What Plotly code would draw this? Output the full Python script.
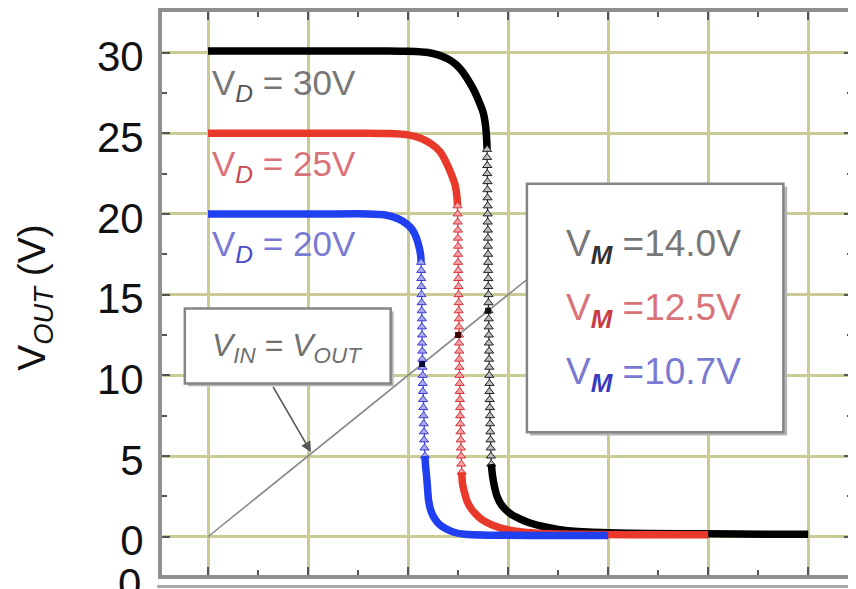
import plotly.graph_objects as go

# ---------------- data ----------------
# V_D = 30 V curve (black)
vin_30_top = [0, 2, 4, 6, 8, 9, 10, 11, 11.5, 12, 12.4, 12.7, 13.0, 13.3, 13.55, 13.75, 13.87, 13.93]
vout_30_top = [30.1, 30.1, 30.1, 30.1, 30.1, 30.1, 30.08, 30.0, 29.85, 29.6, 29.25, 28.85, 28.3, 27.65, 26.95, 26.3, 25.5, 24.6]
vin_30_steep = [13.95, 13.95, 13.96, 13.96, 13.97, 13.97, 13.97, 13.98, 13.98, 13.98,
                13.99, 13.99, 13.99, 14.0, 14.0, 14.0, 14.01, 14.01, 14.02, 14.02,
                14.02, 14.03, 14.03, 14.04, 14.04, 14.05, 14.05, 14.06, 14.06, 14.07,
                14.07, 14.08, 14.09, 14.09, 14.1, 14.11, 14.12, 14.13, 14.14, 14.16]
vout_30_steep = [24.0, 23.5, 23.0, 22.5, 22.0, 21.5, 21.0, 20.5, 20.0, 19.5,
                 19.0, 18.5, 18.0, 17.5, 17.0, 16.5, 16.0, 15.5, 15.0, 14.5,
                 14.0, 13.5, 13.0, 12.5, 12.0, 11.5, 11.0, 10.5, 10.0, 9.5,
                 9.0, 8.5, 8.0, 7.5, 7.0, 6.5, 6.0, 5.5, 5.0, 4.5]
vin_30_bot = [14.22, 14.32, 14.45, 14.65, 14.9, 15.2, 15.6, 16.1, 16.8, 17.5, 18.5, 20, 22, 25, 28, 30]
vout_30_bot = [3.8, 3.1, 2.5, 2.0, 1.65, 1.35, 1.1, 0.85, 0.62, 0.45, 0.32, 0.25, 0.2, 0.18, 0.15, 0.15]

# V_D = 25 V curve (red)
vin_25_top = [0, 2, 4, 6, 8, 9, 10, 10.6, 11.2, 11.6, 11.9, 12.15, 12.35, 12.45]
vout_25_top = [25.0, 25.0, 25.0, 25.0, 25.0, 24.98, 24.9, 24.7, 24.3, 23.85, 23.2, 22.5, 21.8, 21.0]
vin_25_steep = [12.47, 12.48, 12.48, 12.49, 12.49, 12.5, 12.5, 12.5, 12.51, 12.51,
                12.52, 12.52, 12.53, 12.53, 12.54, 12.54, 12.55, 12.55, 12.56, 12.56,
                12.57, 12.57, 12.58, 12.58, 12.59, 12.6, 12.6, 12.61, 12.62, 12.63,
                12.64, 12.65, 12.66, 12.68]
vout_25_steep = [20.5, 20.0, 19.5, 19.0, 18.5, 18.0, 17.5, 17.0, 16.5, 16.0,
                 15.5, 15.0, 14.5, 14.0, 13.5, 13.0, 12.5, 12.0, 11.5, 11.0,
                 10.5, 10.0, 9.5, 9.0, 8.5, 8.0, 7.5, 7.0, 6.5, 6.0,
                 5.5, 5.0, 4.5, 4.0]
vin_25_bot = [12.72, 12.85, 12.95, 13.15, 13.35, 13.65, 14.0, 14.6, 15.5, 16.5, 18.5, 21, 25]
vout_25_bot = [3.3, 2.6, 2.2, 1.75, 1.45, 1.1, 0.85, 0.55, 0.33, 0.22, 0.15, 0.12, 0.12]

# V_D = 20 V curve (blue)
vin_20_top = [0, 2, 4, 6, 8, 8.8, 9.5, 9.9, 10.2, 10.42, 10.58, 10.64]
vout_20_top = [20.0, 20.0, 20.0, 20.0, 20.0, 19.95, 19.7, 19.4, 19.05, 18.5, 17.8, 17.3]
vin_20_steep = [10.65, 10.66, 10.66, 10.67, 10.67, 10.68, 10.68, 10.69, 10.69, 10.7,
                10.7, 10.71, 10.71, 10.72, 10.73, 10.73, 10.74, 10.75, 10.76, 10.77,
                10.78, 10.79, 10.8, 10.82, 10.84]
vout_20_steep = [17.0, 16.5, 16.0, 15.5, 15.0, 14.5, 14.0, 13.5, 13.0, 12.5,
                 12.0, 11.5, 11.0, 10.5, 10.0, 9.5, 9.0, 8.5, 8.0, 7.5,
                 7.0, 6.5, 6.0, 5.5, 5.0]
vin_20_bot = [10.88, 10.93, 10.98, 11.02, 11.12, 11.27, 11.5, 11.85, 12.3, 12.84, 14, 16, 18, 20]
vout_20_bot = [4.3, 3.7, 2.9, 2.3, 1.7, 1.25, 0.85, 0.52, 0.28, 0.15, 0.1, 0.08, 0.08, 0.08]

# V_IN = V_OUT line and switching voltages
diag_vin = [0, 15.9]
diag_vout = [0, 15.9]
vd_labels = ["30V", "25V", "20V"]
vm_values = [14.0, 12.5, 10.7]
vm_labels = ["14.0V", "12.5V", "10.7V"]
y_ticks = [0, 5, 10, 15, 20, 25, 30]

# ---------------- styling ----------------
FONT = "Liberation Sans, Arial, sans-serif"
curves = [
    (vin_30_top, vout_30_top, vin_30_steep, vout_30_steep, vin_30_bot, vout_30_bot,
     "#000000", "#bdbdbd", "#222222"),
    (vin_25_top, vout_25_top, vin_25_steep, vout_25_steep, vin_25_bot, vout_25_bot,
     "#e8392b", "#f3a3a6", "#d8323a"),
    (vin_20_top, vout_20_top, vin_20_steep, vout_20_steep, vin_20_bot, vout_20_bot,
     "#1f3ff0", "#a9a9f0", "#3b3bd6"),
]

fig = go.Figure()

# diagonal V_IN = V_OUT
fig.add_trace(go.Scatter(x=diag_vin, y=diag_vout, mode="lines",
                         line=dict(color="#8a8a8a", width=1.6), showlegend=False, hoverinfo="skip"))

for vt, yt, vs, ys, vb, yb, col, light, mk in curves:
    fig.add_trace(go.Scatter(x=vt + [vs[0]], y=yt + [ys[0]], mode="lines",
                             line=dict(color=col, width=7.5, shape="spline", smoothing=0.5),
                             showlegend=False))
    fig.add_trace(go.Scatter(x=vs, y=ys, mode="lines+markers",
                             line=dict(color=mk, width=1.2),
                             marker=dict(symbol="triangle-up", size=8, color=light,
                                         line=dict(color=mk, width=1)),
                             showlegend=False))
    fig.add_trace(go.Scatter(x=[vs[-1]] + vb, y=[ys[-1]] + yb, mode="lines",
                             line=dict(color=col, width=7.5, shape="spline", smoothing=0.5),
                             showlegend=False))

# switching points
fig.add_trace(go.Scatter(x=vm_values, y=vm_values, mode="markers",
                         marker=dict(symbol="square", size=6, color=["#111111", "#3a0000", "#0a0a40"]),
                         showlegend=False))

shapes = []
# V_IN = V_OUT box (shadow + box)
shapes.append(dict(type="rect", xref="x", yref="y", x0=-1.0, x1=9.28, y0=9.32, y1=13.95,
                   fillcolor="#b5b5b5", line=dict(width=0), layer="above"))
shapes.append(dict(type="rect", xref="x", yref="y", x0=-1.16, x1=9.13, y0=9.5, y1=14.14,
                   fillcolor="white", line=dict(color="#858585", width=2.5), layer="above"))
# V_M box
shapes.append(dict(type="rect", xref="x", yref="y", x0=16.1, x1=28.95, y0=6.28, y1=21.7,
                   fillcolor="#b5b5b5", line=dict(width=0), layer="above"))
shapes.append(dict(type="rect", xref="x", yref="y", x0=15.94, x1=28.76, y0=6.47, y1=21.87,
                   fillcolor="white", line=dict(color="#858585", width=2.5), layer="above"))
# top edge of the panel below
shapes.append(dict(type="line", xref="paper", yref="paper", x0=-0.007, x1=1.0, y0=-0.0204, y1=-0.0204,
                   line=dict(color="#a8a8a8", width=3)))
fig.update_layout(shapes=shapes)

ann = []
vd_colors = ["#777777", "#d9737a", "#7a7ad2"]
vd_sub_colors = ["#555555", "#c84850", "#4a4ac8"]
vd_y = [28.0, 23.0, 18.0]
for lab, c, cs, y in zip(vd_labels, vd_colors, vd_sub_colors, vd_y):
    ann.append(dict(x=0.1, y=y, xref="x", yref="y", xanchor="left", yanchor="middle",
                    text=f"V<sub><i><span style='color:{cs}'>D</span></i></sub> = {lab}",
                    showarrow=False, font=dict(family=FONT, size=35, color=c)))

vm_y = [18.0, 14.05, 10.1]
vm_sub_colors = ["#333333", "#c83a44", "#3a3ac0"]
for lab, c, cs, y in zip(vm_labels, vd_colors, vm_sub_colors, vm_y):
    ann.append(dict(x=17.8, y=y, xref="x", yref="y", xanchor="left", yanchor="middle",
                    text=f"V<sub><b><i><span style='color:{cs}'>M</span></i></b></sub> ={lab}",
                    showarrow=False, font=dict(family=FONT, size=37, color=c)))

ann.append(dict(x=3.97, y=11.7, xref="x", yref="y", xanchor="center", yanchor="middle",
                text="<i>V</i><sub><i>IN</i></sub> = <i>V</i><sub><i>OUT</i></sub>",
                showarrow=False, font=dict(family=FONT, size=32, color="#707070")))
# arrow to the diagonal
ann.append(dict(x=5.15, y=5.24, xref="x", yref="y", ax=3.21, ay=9.38, axref="x", ayref="y",
                text="", showarrow=True, arrowhead=2, arrowsize=1.3, arrowwidth=1.6,
                arrowcolor="#555555"))
# y axis title
ann.append(dict(x=-0.185, y=0.493, xref="paper", yref="paper", xanchor="center", yanchor="middle",
                text="V<sub><i>OUT</i></sub> (V)", textangle=-90, showarrow=False,
                font=dict(family=FONT, size=39, color="#111111")))
# tick label of the panel below (cut by the frame)
ann.append(dict(x=-0.027, y=0.03, xref="paper", yref="paper", xanchor="right", yanchor="top",
                text="0", showarrow=False, font=dict(family=FONT, size=42, color="#111111")))
fig.update_layout(annotations=ann)

axis_common = dict(
    ticks="inside", ticklen=8, tickwidth=2, tickcolor="#555555",
    showgrid=True, gridcolor="#cbcb95", gridwidth=2.5, zeroline=False,
    showline=True, linecolor="#8f8f8f", linewidth=4, mirror="ticks",
    minor=dict(ticks="inside", ticklen=5, tickwidth=2, tickcolor="#555555",
               dtick=2.5, tick0=0, showgrid=False),
)
fig.update_xaxes(range=[-2.30, 32.19], tick0=0, dtick=5, showticklabels=False, **axis_common)
fig.update_yaxes(range=[-2.37, 32.51], tickvals=y_ticks, ticktext=[str(v) for v in y_ticks],
                 tickfont=dict(family=FONT, size=42, color="#111111"), ticklabelstandoff=6,
                 ticklabelshift=4, **axis_common)

# the page body adds an 8px margin, so the figure is sized to fill the rest of the window
fig.update_layout(width=848, height=581, margin=dict(l=154, r=0, t=3, b=14),
                  paper_bgcolor="white", plot_bgcolor="white", showlegend=False,
                  font=dict(family=FONT))
fig.write_html("out.html")
